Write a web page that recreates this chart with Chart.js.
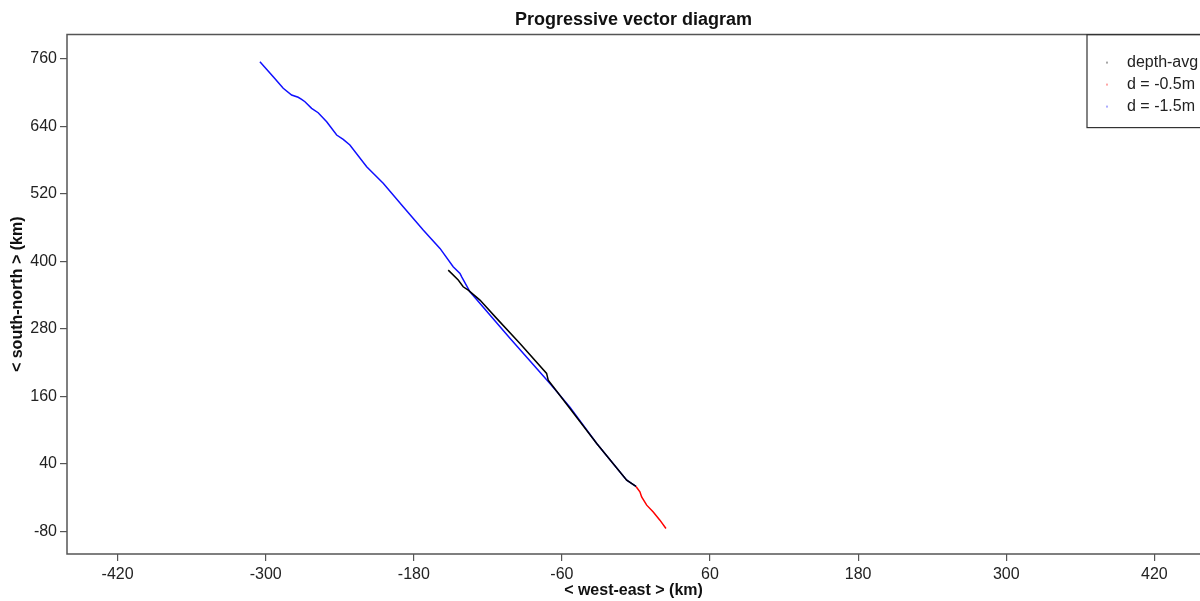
<!DOCTYPE html>
<html>
<head>
<meta charset="utf-8">
<script src="https://cdn.jsdelivr.net/npm/chart.js@4/dist/chart.umd.min.js"></script>
<style>
  html, body { margin: 0; padding: 0; background: #fff; overflow: hidden; }
  #holder { width: 1200px; height: 601px; }
</style>
</head>
<body>
<div id="holder"><canvas id="pvd"></canvas></div>
<script>
// tick labels
var xTicks = [-420, -300, -180, -60, 60, 180, 300, 420];
var yTicks = [-80, 40, 160, 280, 400, 520, 640, 760];

// series names
var seriesNames = ["depth-avg", "d = -0.5m", "d = -1.5m"];

// depth-avg track (km east, km north)
var avgX = [0, -7.5, -31.8, -53.5, -67.0, -71.1, -72.4, -94.0, -112.9, -126.4, -135.9, -140.0, -144.0, -152.1];
var avgY = [0, 11.2, 76.4, 138.7, 177.1, 189.0, 200.9, 254.2, 298.7, 331.2, 349.0, 354.8, 366.8, 384.5];

// d = -0.5m track
var surfX = [0, 3.2, 4.6, 8.7, 14.0, 19.4, 24.3];
var surfY = [0, -9.6, -18.5, -33.2, -45.2, -59.9, -74.7];

// d = -1.5m track
var deepX = [0, -7.5, -31.8, -53.5, -69.7, -102.1, -134.5, -141.2, -142.6, -148.1, -158.8, -172.4, -188.6,
             -204.8, -218.2, -231.8, -237.2, -242.5, -250.6, -257.5, -262.8, -268.2, -270.9, -273.7,
             -279.0, -285.8, -293.9, -304.7];
var deepY = [0, 11.2, 76.4, 141.0, 183.1, 263.6, 346.0, 372.6, 378.7, 390.4, 423.1, 455.6, 497.1,
             538.7, 568.2, 606.8, 616.9, 624.5, 648.2, 664.2, 672.0, 683.7, 688.0, 691.6,
             695.6, 707.6, 728.2, 754.8];

function to_points(xs, ys) {
    var pts = [];
    for (var i = 0; i < xs.length; i++) {
        pts.push({ x: xs[i], y: ys[i] });
    }
    return pts;
}

var FONT = "'Liberation Sans', Arial, sans-serif";
var FRAME = "#555";

/******************************************************************************
* Frame (top, left, bottom) and the legend box in the top right corner.
******************************************************************************/
var framePlugin = {
    id: 'frame',
    afterDraw: function(chart) {
        var ctx = chart.ctx;
        var a = chart.chartArea;
        ctx.save();
        ctx.strokeStyle = FRAME;
        ctx.lineWidth = 1.5;
        ctx.beginPath();
        ctx.moveTo(chart.width + 5, a.top);
        ctx.lineTo(a.left, a.top);
        ctx.lineTo(a.left, a.bottom);
        ctx.lineTo(chart.width + 5, a.bottom);
        ctx.stroke();

        // legend
        var bx = 1087, by = a.top, bh = 93;
        ctx.strokeStyle = "#333";
        ctx.lineWidth = 1.2;
        ctx.strokeRect(bx, by, chart.width - bx + 10, bh);
        ctx.font = "16px " + FONT;
        ctx.textBaseline = "middle";
        ctx.textAlign = "left";
        chart.data.datasets.forEach(function(ds, i) {
            var ty = by + 28 + i * 22;
            ctx.fillStyle = ds.borderColor;
            ctx.globalAlpha = 0.35;
            ctx.fillRect(1106, ty - 1, 2, 2);
            ctx.globalAlpha = 1;
            ctx.fillStyle = "#222";
            ctx.fillText(ds.label, 1127, ty);
        });
        ctx.restore();
    }
};

var ctx = document.getElementById("pvd").getContext("2d");
var chart = new Chart(ctx, {
    type: 'scatter',
    data: {
        datasets: [
            { label: seriesNames[0], data: to_points(avgX, avgY),  borderColor: '#000000' },
            { label: seriesNames[1], data: to_points(surfX, surfY), borderColor: '#ff0000' },
            { label: seriesNames[2], data: to_points(deepX, deepY), borderColor: '#1010ff' }
        ]
    },
    options: {
        responsive: true,
        maintainAspectRatio: false,
        animation: false,
        layout: { padding: 0 },
        datasets: {
            scatter: { showLine: true, pointRadius: 0, borderWidth: 1.5, tension: 0, fill: false }
        },
        plugins: {
            legend: { display: false },
            tooltip: { enabled: false },
            title: {
                display: true,
                text: 'Progressive vector diagram',
                fullSize: false,
                color: '#111',
                font: { family: FONT, size: 18, weight: 'bold' },
                padding: { top: 9, bottom: 4 }
            }
        },
        scales: {
            x: {
                type: 'linear',
                min: -461,
                max: 457,
                afterBuildTicks: function(scale) {
                    scale.ticks = xTicks.map(function(v) { return { value: v }; });
                },
                afterFit: function(scale) { scale.height = 47; },
                grid: { drawOnChartArea: false, tickLength: 7, color: FRAME, lineWidth: 1.2 },
                border: { display: false },
                ticks: { color: '#222', padding: 4, maxRotation: 0, font: { family: FONT, size: 16 } },
                title: {
                    display: true,
                    text: '< west-east > (km)',
                    color: '#111',
                    font: { family: FONT, size: 16, weight: 'bold' },
                    padding: { top: 0, bottom: 0.4 }
                }
            },
            y: {
                type: 'linear',
                min: -120,
                max: 803,
                afterBuildTicks: function(scale) {
                    scale.ticks = yTicks.map(function(v) { return { value: v }; });
                },
                afterFit: function(scale) { scale.width = 67; },
                grid: { drawOnChartArea: false, tickLength: 7, color: FRAME, lineWidth: 1.2 },
                border: { display: false },
                ticks: { color: '#222', padding: 3, font: { family: FONT, size: 16 } },
                title: {
                    display: true,
                    text: '< south-north > (km)',
                    color: '#111',
                    font: { family: FONT, size: 16, weight: 'bold' },
                    padding: { top: 8, bottom: 0 }
                }
            }
        }
    },
    plugins: [framePlugin]
});
</script>
</body>
</html>
